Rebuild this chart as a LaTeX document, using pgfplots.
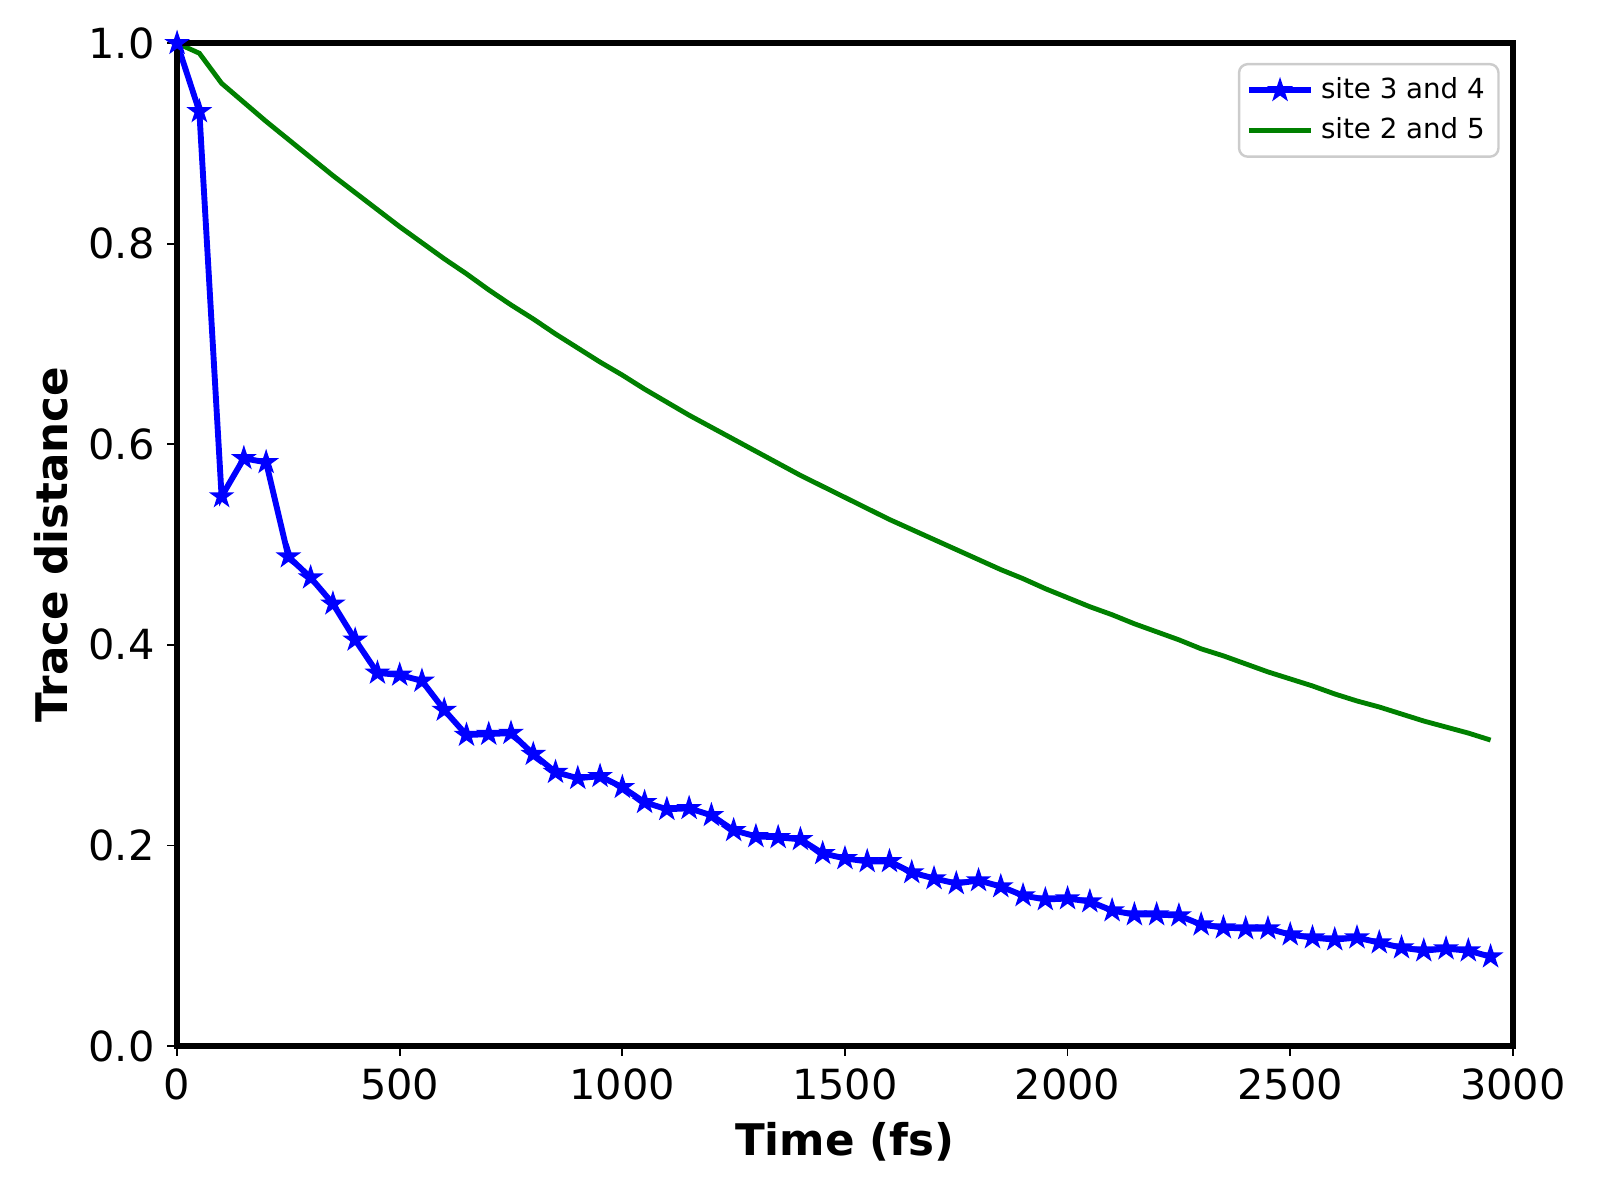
\documentclass[border=0pt]{standalone}
\usepackage{fontspec}
\setmainfont{DejaVu Sans}
\usepackage{pgfplots}
\pgfplotsset{compat=1.18}
\definecolor{mplgreen}{HTML}{008000}
\definecolor{mplblue}{HTML}{0000FF}
\pgfdeclareplotmark{fstar}{%
  \pgfpathmoveto{\pgfpointpolar{90}{\pgfplotmarksize}}%
  \pgfpathlineto{\pgfpointpolar{126}{0.382\pgfplotmarksize}}%
  \pgfpathlineto{\pgfpointpolar{162}{\pgfplotmarksize}}%
  \pgfpathlineto{\pgfpointpolar{198}{0.382\pgfplotmarksize}}%
  \pgfpathlineto{\pgfpointpolar{234}{\pgfplotmarksize}}%
  \pgfpathlineto{\pgfpointpolar{270}{0.382\pgfplotmarksize}}%
  \pgfpathlineto{\pgfpointpolar{306}{\pgfplotmarksize}}%
  \pgfpathlineto{\pgfpointpolar{342}{0.382\pgfplotmarksize}}%
  \pgfpathlineto{\pgfpointpolar{18}{\pgfplotmarksize}}%
  \pgfpathlineto{\pgfpointpolar{54}{0.382\pgfplotmarksize}}%
  \pgfpathclose\pgfusepathqfillstroke}
\begin{document}
\begin{tikzpicture}[x=1pt,y=1pt]
\path[use as bounding box] (-51.2,-44.5) rectangle (411.4,302.4);
\begin{axis}[
  at={(0,0)}, anchor=south west,
  scale only axis, width=386.2pt, height=289.9pt,
  xmin=0, xmax=3000, ymin=0, ymax=1,
  xtick={0,500,1000,1500,2000,2500,3000},
  ytick={0,0.2,0.4,0.6,0.8,1.0},
  /pgf/number format/assume math mode=true,
  xticklabel style={/pgf/number format/1000 sep={}},
  yticklabel style={/pgf/number format/.cd, fixed, fixed zerofill, precision=1},
  tick label style={font=\fontsize{12}{14}\selectfont, inner sep=3.4pt},
  tick align=outside, major tick length=2.9pt,
  tick style={line width=0.5pt, black},
  xtick pos=bottom, ytick pos=left,
  axis line style={line width=1.8pt},
  axis on top,
  xlabel={\textbf{Time (fs)}},
  ylabel={\textbf{Trace distance}},
  label style={font=\fontsize{12.6}{15}\selectfont},
  xlabel style={at={(axis description cs:0.5,-0.1097)}, anchor=base},
  ylabel style={at={(axis description cs:-0.0823,0.5)}, anchor=base},
  legend image code/.code={%
    \draw[mark repeat=2,mark phase=2,#1] plot coordinates {(0pt,0pt)(9pt,0pt)(18pt,0pt)};},
  legend style={at={(1,1)}, anchor=north east, xshift=-3.8pt, yshift=-5.7pt,
    draw=black!20, line width=0.7pt, rounded corners=2.5pt, font=\fontsize{8}{10}\selectfont,
    cells={anchor=west}, row sep=0pt, inner xsep=2pt, inner ysep=1.8pt},
]
\addplot[mplblue, line width=1.7pt, mark=fstar, mark size=3.1pt, mark options={solid, fill=mplblue, line width=0.5pt}] coordinates {
(0,1.000)(50,0.932)(100,0.548)(150,0.586)(200,0.582)(250,0.488)(300,0.467)(350,0.441)
(400,0.405)(450,0.372)(500,0.370)(550,0.364)(600,0.335)(650,0.310)(700,0.311)(750,0.312)
(800,0.291)(850,0.273)(900,0.267)(950,0.269)(1000,0.258)(1050,0.243)(1100,0.236)(1150,0.237)
(1200,0.230)(1250,0.215)(1300,0.209)(1350,0.208)(1400,0.206)(1450,0.192)(1500,0.187)(1550,0.184)
(1600,0.184)(1650,0.173)(1700,0.167)(1750,0.162)(1800,0.165)(1850,0.159)(1900,0.150)(1950,0.146)
(2000,0.147)(2050,0.144)(2100,0.135)(2150,0.131)(2200,0.131)(2250,0.130)(2300,0.121)(2350,0.118)
(2400,0.117)(2450,0.117)(2500,0.111)(2550,0.108)(2600,0.106)(2650,0.108)(2700,0.103)(2750,0.098)
(2800,0.095)(2850,0.097)(2900,0.095)(2950,0.089)};
\addlegendentry{site 3 and 4}
\addplot[mplgreen, line width=1.4pt] coordinates {
(0,1.000)(50,0.990)(100,0.960)(150,0.941)(200,0.922)(250,0.904)(300,0.886)(350,0.868)
(400,0.851)(450,0.834)(500,0.817)(550,0.801)(600,0.785)(650,0.770)(700,0.754)(750,0.739)
(800,0.725)(850,0.710)(900,0.696)(950,0.682)(1000,0.669)(1050,0.655)(1100,0.642)(1150,0.629)
(1200,0.617)(1250,0.605)(1300,0.593)(1350,0.581)(1400,0.569)(1450,0.558)(1500,0.547)(1550,0.536)
(1600,0.525)(1650,0.515)(1700,0.505)(1750,0.495)(1800,0.485)(1850,0.475)(1900,0.466)(1950,0.456)
(2000,0.447)(2050,0.438)(2100,0.430)(2150,0.421)(2200,0.413)(2250,0.405)(2300,0.396)(2350,0.389)
(2400,0.381)(2450,0.373)(2500,0.366)(2550,0.359)(2600,0.351)(2650,0.344)(2700,0.338)(2750,0.331)
(2800,0.324)(2850,0.318)(2900,0.312)(2950,0.305)};
\addlegendentry{site 2 and 5}
\end{axis}
\end{tikzpicture}
\end{document}
